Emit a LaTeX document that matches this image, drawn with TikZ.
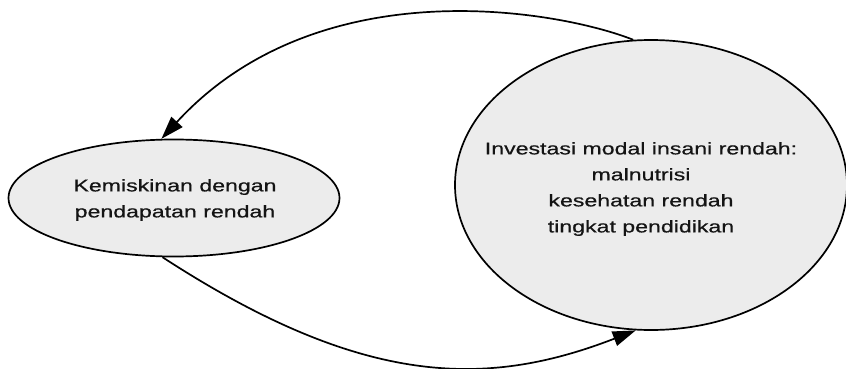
\documentclass[tikz,border=0pt]{standalone}
\usepackage{fontspec}
\setmainfont[FakeStretch=1.36,FakeBold=0.6]{Liberation Sans}
\usetikzlibrary{shapes.geometric,arrows.meta}
\begin{document}
\begin{tikzpicture}[x=1pt,y=-1pt,
  oval/.style={ellipse,draw=black,line width=1.7pt,fill=gray!15,inner sep=0pt},
  label text/.style={align=center,font=\fontsize{17}{26}\selectfont,text=black!92},
  link/.style={line width=1.7pt,-{Triangle[length=23pt,width=15pt]}}]
\useasboundingbox (0,0) rectangle (846,369);
\node[oval,minimum width=331pt,minimum height=117pt] (L) at (174,198) {};
\node[label text] (Ltext) at (175,200) {Kemiskinan dengan\\pendapatan rendah};
\node[oval,minimum width=392pt,minimum height=290pt] (R) at (651,185) {};
\node[label text] (Rtext) at (641,189) {Investasi modal insani rendah:\\malnutrisi\\kesehatan rendah\\tingkat pendidikan};
\draw[link] (R.97) .. controls +(-73,-29) and +(158,-172) .. (L.102);
\draw[link] (L.259) .. controls +(200,130) and +(-150,58) .. (R.264.6);
\end{tikzpicture}
\end{document}
